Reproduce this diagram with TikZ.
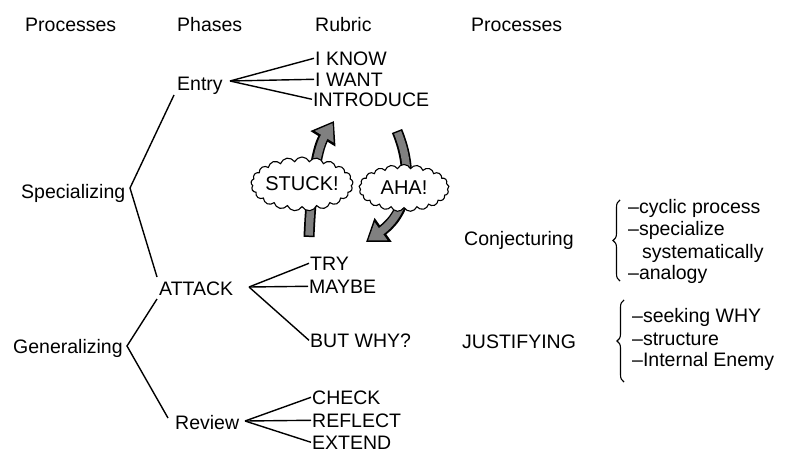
\documentclass[tikz,border=0pt]{standalone}
\usepackage{fontspec}
\setmainfont{Liberation Sans}
\usetikzlibrary{shapes.symbols, arrows.meta, decorations.pathreplacing}
\begin{document}
\begin{tikzpicture}[x=1pt,y=-1pt,
  lbl/.style={font=\fontsize{19.5}{22}\selectfont, inner sep=1pt, anchor=base west},
  tree/.style={line width=1.4pt, black},
  puff/.style={cloud, cloud puffs=21, cloud puff arc=130, draw, line width=1.1pt, fill=white, inner sep=0pt},
  cloudtext/.style={font=\fontsize{20}{22}\selectfont, inner sep=0pt},
  bigarrowout/.style={line width=11pt, black, -{Triangle[width=28pt,length=21pt]}},
  bigarrowin/.style={line width=7.5pt, black!50, -{Triangle[width=21pt,length=16pt]}, shorten >=2.5pt, shorten <=1.5pt},
  bracestyle/.style={decorate, decoration={brace, amplitude=7pt}, line width=1.1pt}
]
\useasboundingbox (0,0) rectangle (789,452);

% headers
\node[lbl] (h1) at (24,32) {Processes};
\node[lbl] (h2) at (176,32) {Phases};
\node[lbl] (h3) at (314,32) {Rubric};
\node[lbl] (h4) at (470,32) {Processes};

% phases
\node[lbl] (entry) at (176,90) {Entry};
\node[lbl] (attack) at (158,295) {ATTACK};
\node[lbl] (review) at (174,429) {Review};

% processes left
\node[lbl] (spec) at (20,198) {Specializing};
\node[lbl] (gen) at (12,353) {Generalizing};

% rubric
\node[lbl] (iknow) at (314,65) {I KNOW};
\node[lbl] (iwant) at (314,86) {I WANT};
\node[lbl] (intro) at (312,106) {INTRODUCE};
\node[lbl] (try) at (309,270) {TRY};
\node[lbl] (maybe) at (308,293) {MAYBE};
\node[lbl] (butwhy) at (309,347) {BUT WHY?};
\node[lbl] (check) at (311,404) {CHECK};
\node[lbl] (reflect) at (311,427) {REFLECT};
\node[lbl] (extend) at (311,449) {EXTEND};

% fan vertices
\coordinate (entryfan) at (230,81);
\coordinate (attackfan) at (249,287);
\coordinate (reviewfan) at (245,421);
\draw[tree] (entryfan) -- (iknow.west);
\draw[tree] (entryfan) -- (iwant.west);
\draw[tree] (entryfan) -- (intro.west);
\draw[tree] (attackfan) -- (try.west);
\draw[tree] (attackfan) -- (maybe.west);
\draw[tree] (attackfan) -- (butwhy.west);
\draw[tree] (reviewfan) -- (check.west);
\draw[tree] (reviewfan) -- (reflect.west);
\draw[tree] (reviewfan) -- (extend.west);

% process vertices
\coordinate (sv) at (130,188);
\coordinate (entrybot) at (174,95);
\coordinate (attacktop) at (157,277);
\coordinate (gv) at (127,346);
\coordinate (attackbot) at (157,299);
\coordinate (reviewleft) at (168,418);
\draw[tree] (entrybot) -- (sv) -- (attacktop);
\draw[tree] (attackbot) -- (gv) -- (reviewleft);

% big gray arrows
\coordinate (s0) at (309,237);
\coordinate (s2) at (334,121);
\draw[bigarrowout] (s0) .. controls (311,190) and (316,150) .. (s2);
\draw[bigarrowin] (s0) .. controls (311,190) and (316,150) .. (s2);
\coordinate (a0) at (397,131);
\coordinate (a2) at (366,242);
\draw[bigarrowout] (a0) .. controls (414,172) and (408,212) .. (a2);
\draw[bigarrowin] (a0) .. controls (414,172) and (408,212) .. (a2);

% clouds
\node[puff, minimum width=102pt, minimum height=54pt] (stuckc) at (302,184) {};
\node[cloudtext] (stuck) at (stuckc) {STUCK!};
\node[puff, minimum width=90pt, minimum height=47pt] (ahac) at (404,188) {};
\node[cloudtext] (aha) at (ahac) {AHA!};

% right processes
\node[lbl] (conj) at (463,245) {Conjecturing};
\node[lbl] (just) at (461,348) {JUSTIFYING};

\coordinate (b1top) at (620,200);
\coordinate (b1bot) at (620,281);
\draw[bracestyle] (b1bot) -- (b1top);
\node[lbl] (c1) at (627,213) {\textendash cyclic process};
\node[lbl] (c2) at (627,235) {\textendash specialize};
\node[lbl] (c3) at (641,258) {systematically};
\node[lbl] (c4) at (627,279) {\textendash analogy};

\coordinate (b2top) at (624,300);
\coordinate (b2bot) at (624,382);
\draw[bracestyle] (b2bot) -- (b2top);
\node[lbl] (j1) at (631,322) {\textendash seeking WHY};
\node[lbl] (j2) at (631,345) {\textendash structure};
\node[lbl] (j3) at (631,366) {\textendash Internal Enemy};
\end{tikzpicture}
\end{document}
